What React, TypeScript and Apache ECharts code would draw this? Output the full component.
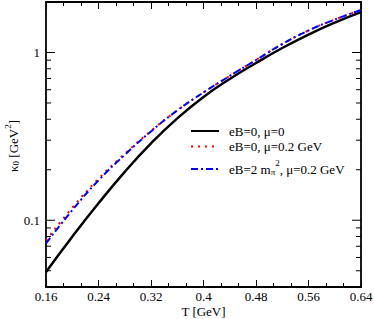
import React, { useEffect, useRef } from "react";
import * as echarts from "echarts";

const T = [0.16, 0.2, 0.24, 0.28, 0.32, 0.36, 0.4, 0.44, 0.48, 0.52, 0.56, 0.6, 0.64];
const kappaB0mu0 = [0.0492, 0.0798, 0.1262, 0.1943, 0.2872, 0.4047, 0.5433, 0.6954, 0.866, 1.0636, 1.28, 1.5085, 1.742];
const kappaB0mu02 = [0.076, 0.1187, 0.1766, 0.2488, 0.3409, 0.4516, 0.5779, 0.7246, 0.9023, 1.1236, 1.352, 1.572, 1.791];
const kappaB2mu02 = [0.0729, 0.1147, 0.1729, 0.2454, 0.3386, 0.4516, 0.5779, 0.7246, 0.9023, 1.1236, 1.352, 1.572, 1.791];

const X_MIN = 0.16;
const X_MAX = 0.64;
const X_INTERVAL = 0.08;
const Y_MIN = 0.04;
const Y_MAX = 2;
const yMajorTicks = [0.1, 1];
const yMajorLabels = ["0.1", "1"];
const yMinorTicks = [0.05, 0.06, 0.07, 0.08, 0.09, 0.2, 0.3, 0.4, 0.5, 0.6, 0.7, 0.8, 0.9, 2];

const names = ["eB=0, μ=0", "eB=0, μ=0.2 GeV", "eB=2 mπ², μ=0.2 GeV"];
const xTitle = "T [GeV]";

const FONT = "Liberation Serif";

export default function App() {
  const ref = useRef<HTMLDivElement>(null);
  useEffect(() => {
    const chart = echarts.init(ref.current!, null, { renderer: "svg" });
    const axisCommon = {
      axisLine: { show: true, lineStyle: { color: "#000", width: 1.8 } },
      splitLine: { show: false },
    };
    const richStyles = {
      n: { fontFamily: FONT, fontSize: 13, color: "#000", lineHeight: 26, verticalAlign: "middle" },
      sub: { fontFamily: FONT, fontSize: 9, color: "#000", lineHeight: 9, verticalAlign: "middle", padding: [6, 0, 0, 0] },
      sup: { fontFamily: FONT, fontSize: 9, color: "#000", lineHeight: 9, verticalAlign: "top", padding: [2, 0, 0, 0] },
    };
    const legendBase = {
      left: 190,
      orient: "vertical",
      padding: 0,
      itemWidth: 28,
      itemHeight: 10,
      itemStyle: { opacity: 0 },
      textStyle: { fontFamily: FONT, fontSize: 13, color: "#000", padding: [0, 0, 0, 5], rich: richStyles },
    };
    const tickSeries = (values: number[], len: number, labels?: string[]) => ({
      type: "custom",
      silent: true,
      clip: false,
      z: 10,
      data: values.map((v) => [X_MIN, v]),
      renderItem: (params: any, api: any) => {
        const v = api.value(1);
        const p1 = api.coord([X_MIN, v]);
        const p2 = api.coord([X_MAX, v]);
        const children: any[] = [
          { type: "line", shape: { x1: p1[0], y1: p1[1], x2: p1[0] + len, y2: p1[1] }, style: { stroke: "#000", lineWidth: 1 } },
          { type: "line", shape: { x1: p2[0] - len, y1: p2[1], x2: p2[0], y2: p2[1] }, style: { stroke: "#000", lineWidth: 1 } },
        ];
        if (labels) {
          children.push({
            type: "text",
            x: p1[0] - 6,
            y: p1[1],
            style: {
              text: labels[params.dataIndex],
              fontFamily: FONT,
              fontSize: 13,
              fill: "#000",
              align: "right",
              verticalAlign: "middle",
            },
          });
        }
        return { type: "group", children };
      },
    });
    chart.setOption({
      animation: false,
      grid: { left: 46, right: 13, top: 2, bottom: 32, containLabel: false, outerBoundsMode: "none" },
      xAxis: [
        {
          type: "value",
          min: X_MIN,
          max: X_MAX,
          interval: X_INTERVAL,
          position: "bottom",
          ...axisCommon,
          axisTick: { inside: true, length: 7, lineStyle: { color: "#000", width: 1 } },
          minorTick: { show: true, splitNumber: 3, length: 4, lineStyle: { color: "#000", width: 1 } },
          axisLabel: { fontFamily: FONT, fontSize: 13, color: "#000", margin: 3 },
        },
        {
          type: "value",
          min: X_MIN,
          max: X_MAX,
          interval: X_INTERVAL,
          position: "top",
          ...axisCommon,
          axisTick: { inside: true, length: 7, lineStyle: { color: "#000", width: 1 } },
          minorTick: { show: true, splitNumber: 3, length: 4, lineStyle: { color: "#000", width: 1 } },
          axisLabel: { show: false },
        },
      ],
      yAxis: [
        {
          type: "log",
          logBase: 10,
          min: Y_MIN,
          max: Y_MAX,
          position: "left",
          ...axisCommon,
          axisTick: { show: false },
          axisLabel: { show: false },
        },
        {
          type: "log",
          logBase: 10,
          min: Y_MIN,
          max: Y_MAX,
          position: "right",
          ...axisCommon,
          axisTick: { show: false },
          axisLabel: { show: false },
        },
      ],
      legend: [
        { ...legendBase, top: 124.5, data: [names[0]], formatter: () => "{n|eB=0, μ=0}" },
        { ...legendBase, top: 140, data: [names[1]], formatter: () => "{n|eB=0, μ=0.2 GeV}" },
        { ...legendBase, top: 156, data: [names[2]], formatter: () => "{n|eB=2 m}{sub|π}{sup|2}{n|, μ=0.2 GeV}" },
      ],
      graphic: [
        {
          type: "text",
          x: 13,
          y: 146,
          rotation: Math.PI / 2,
          style: {
            text: "{n|κ}{sub|0}{n| [GeV}{sup|2}{n|]}",
            align: "center",
            verticalAlign: "middle",
            rich: {
              n: { fontFamily: FONT, fontSize: 13, fill: "#000", lineHeight: 24, verticalAlign: "middle" },
              sub: { fontFamily: FONT, fontSize: 9, fill: "#000", lineHeight: 9, verticalAlign: "middle", padding: [6, 0, 0, 0] },
              sup: { fontFamily: FONT, fontSize: 9, fill: "#000", lineHeight: 9, verticalAlign: "top", padding: [2, 0, 0, 0] },
            },
          },
        },
        {
          type: "text",
          x: 203.5,
          y: 311.5,
          style: {
            text: xTitle,
            fontFamily: FONT,
            fontSize: 13,
            fill: "#000",
            align: "center",
            verticalAlign: "middle",
          },
        },
      ],
      series: [
        {
          name: names[0],
          type: "line",
          data: T.map((t, i) => [t, kappaB0mu0[i]]),
          smooth: true,
          symbol: "none",
          lineStyle: { color: "#000", width: 2.5, type: "solid" },
          itemStyle: { color: "#000" },
          z: 3,
        },
        {
          name: names[1],
          type: "line",
          data: T.map((t, i) => [t, kappaB0mu02[i]]),
          smooth: true,
          symbol: "none",
          lineStyle: { color: "#ff0000", width: 2, type: [2, 5] },
          itemStyle: { color: "#ff0000" },
          z: 4,
        },
        {
          name: names[2],
          type: "line",
          data: T.map((t, i) => [t, kappaB2mu02[i]]),
          smooth: true,
          symbol: "none",
          lineStyle: { color: "#0000ff", width: 2, type: [7, 3, 2, 3] },
          itemStyle: { color: "#0000ff" },
          z: 5,
        },
        tickSeries(yMinorTicks, 5),
        tickSeries(yMajorTicks, 9, yMajorLabels),
      ],
    });
    return () => chart.dispose();
  }, []);
  return <div ref={ref} style={{ width: 374, height: 319, position: "absolute", left: 0, top: 0 }} />;
}
